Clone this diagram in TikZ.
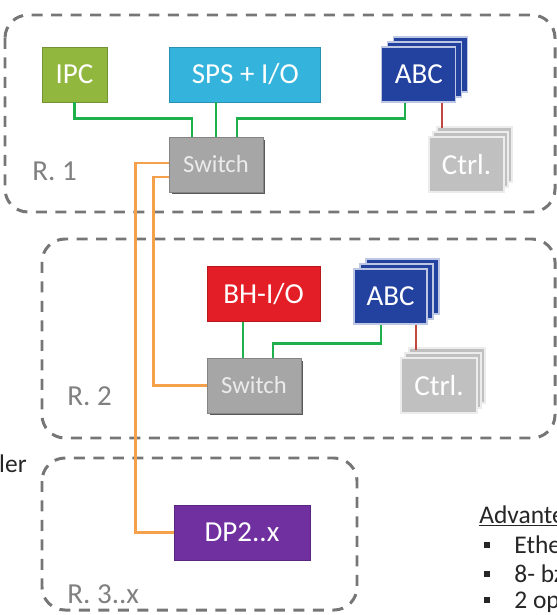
\documentclass[tikz,border=0pt]{standalone}
\usepackage{fontspec}
\setmainfont{Carlito}
\usetikzlibrary{positioning, shadows, calc}
\definecolor{IPCGreen}{RGB}{146,183,62}
\definecolor{SPSCyan}{RGB}{52,180,220}
\definecolor{ABCBlue}{RGB}{35,66,160}
\definecolor{BHRed}{RGB}{228,30,38}
\definecolor{DPPurple}{RGB}{112,48,160}
\definecolor{SwGray}{RGB}{166,166,166}
\definecolor{CtrlGray}{RGB}{192,192,192}
\definecolor{LanGreen}{RGB}{30,176,76}
\definecolor{FibOrange}{RGB}{245,160,75}
\definecolor{BusRed}{RGB}{192,72,62}
\definecolor{FrameGray}{RGB}{118,118,118}

\begin{document}
\begin{tikzpicture}[x=0.02cm, y=-0.02cm, node distance=1.2cm,
  box/.style={rectangle, fill=#1, draw=#1!80!black, line width=0.5pt, text=white, minimum height=1.1cm, inner sep=0pt, font=\fontsize{16.5}{19}\selectfont},
  swbox/.style={box=SwGray, minimum width=1.88cm, text=white!92!black, font=\fontsize{14}{16}\selectfont, drop shadow={shadow xshift=0.05cm, shadow yshift=-0.05cm, fill=black!65, opacity=1}},
  stack/.style 2 args={box=#1, draw=white!70!#1, line width=0.7pt, double copy shadow={shadow xshift=#2, shadow yshift=0.1cm}},
  frame/.style={draw=FrameGray, line width=1.7pt, dash pattern=on 0.22cm off 0.17cm, rounded corners=0.46cm},
  lan/.style={LanGreen, line width=1.3pt},
  fib/.style={FibOrange, line width=1.3pt},
  bus/.style={BusRed, line width=1.1pt},
  room/.style={text=gray, inner sep=0pt, anchor=base west, font=\fontsize{16.5}{19}\selectfont},
  side/.style={text=black!85, inner sep=0pt, anchor=base west, font=\fontsize{14.5}{17}\selectfont}
]
\useasboundingbox (0,0) rectangle (557,615);

% Rooms
\draw[frame] (5,15) rectangle (555,212);
\draw[frame] (42,239) rectangle (555,438);
\draw[frame] (42,458) rectangle (357,610);

% R. 1
\node[box=IPCGreen, minimum width=1.3cm] (ipc) at (74.5,74.5) {IPC};
\node[box=SPSCyan, minimum width=3.02cm, right=1.24cm of ipc] (sps) {SPS + I/O};
\node[stack={ABCBlue}{0.12cm}, minimum width=1.48cm, right=1.2cm of sps] (abc1) {ABC};
\node[swbox] (sw1) at (216,164.5) {Switch};
\node[stack={CtrlGray}{0.08cm}, minimum width=1.5cm] (ctrl1) at (466.5,164.5) {Ctrl.};
\node[room] (r1) at (32,180) {R. 1};

% R. 2
\node[box=BHRed, minimum width=2.26cm] (bh) at (263.5,294) {BH-I/O};
\node[stack={ABCBlue}{0.12cm}, minimum width=1.46cm] (abc2) at (390.5,296.5) {ABC};
\node[swbox] (sw2) at (254,385.5) {Switch};
\node[stack={CtrlGray}{0.08cm}, minimum width=1.52cm] (ctrl2) at (439,385.5) {Ctrl.};
\node[room] (r2) at (67,405) {R. 2};

% R. 3..x
\node[box=DPPurple, minimum width=2.72cm] (dp) at (242,532.5) {DP2..x};
\node[room] (r3) at (67,603) {R. 3..x};

% Links
\draw[lan] (ipc.south) -- ++(0,16) -| ([xshift=-0.48cm]sw1.north);
\draw[lan] (sw1.north |- sps.south) -- (sw1.north);
\draw[lan] ([xshift=-0.28cm]abc1.south) -- ++(0,16) -| ([xshift=0.42cm]sw1.north);
\draw[bus] ([xshift=0.46cm]abc1.south) -- ++(0,25);

\coordinate (bhtap) at ([xshift=-0.41cm]bh.south);
\draw[lan] (bhtap) -- (bhtap |- sw2.north);
\draw[lan] ([xshift=-0.19cm]abc2.south) -- ++(0,19) -| ([xshift=0.38cm]sw2.north);
\draw[bus] ([xshift=0.51cm]abc2.south) -- ++(0,25);

\draw[fib] ([yshift=0.03cm]sw1.west) -- ++(-33,0) |- (dp.west);
\draw[fib] ([yshift=-0.25cm]sw1.west) -- ++(-15,0) |- (sw2.west);

% Side texts
\node[side, anchor=base east] (pler) at (27,472) {pler};
\node[side] (adv) at (479,523) {\underline{Advante}};
\node[side] (adv1) at (484,553) {\rule[0.1cm]{0.12cm}{0.12cm}\hspace{0.48cm}Ether};
\node[side] (adv2) at (484,582) {\rule[0.1cm]{0.12cm}{0.12cm}\hspace{0.48cm}8- bz};
\node[side] (adv3) at (484,608) {\rule[0.1cm]{0.12cm}{0.12cm}\hspace{0.48cm}2 opt};

\end{tikzpicture}
\end{document}
